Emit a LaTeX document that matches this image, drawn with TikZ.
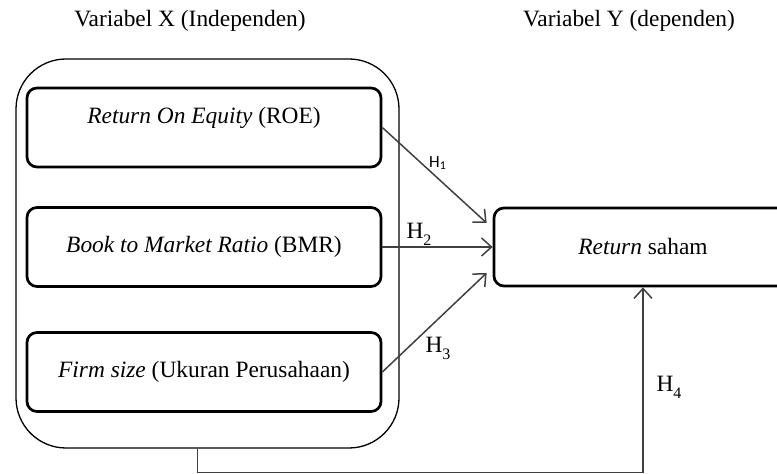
\documentclass[tikz,border=0pt]{standalone}
\usepackage{fontspec}
\setmainfont{Liberation Serif}
\newfontfamily\hsans{Carlito}
\usetikzlibrary{arrows.meta}
\newcommand{\hsub}[1]{H\raisebox{-3.5pt}{\footnotesize #1}}

\begin{document}
\begin{tikzpicture}[x=0.5pt,y=-0.5pt,
    every node/.style={font=\fontsize{11.7}{14}\selectfont},
    varbox/.style={draw,line width=1.35pt,rounded corners=5pt,%
      minimum width=177pt,minimum height=39.5pt,inner sep=0pt},
    hyp/.style={draw=black!75,line width=0.75pt,%
      -{Straight Barb[length=5pt,width=9pt]}}]
      \useasboundingbox (0,0) rectangle (777,474) ;
      \node (titleX) at (190,21) {Variabel X (Independen)} ;
      \node (titleY) at (629,21) {Variabel Y (dependen)} ;
      \node[draw,line width=0.65pt,rounded corners=25pt,minimum width=191.5pt,%
        minimum height=194.5pt] (grp) at (207.5,253.5) {} ;
      \node[varbox] (roe) at (204,127.5) %
        {\raisebox{12pt}{\textit{Return On Equity} (ROE)}} ;
      \node[varbox] (bmr) at (204,247) {\textit{Book to Market Ratio} (BMR)} ;
      \node[varbox] (firm) at (204,372) {\textit{Firm size} (Ukuran Perusahaan)} ;
      \node[varbox,minimum width=149pt,minimum height=39pt] %
        (ret) at (643,247) {\textit{Return} saham} ;
      \draw[hyp] (roe.east) -- ([xshift=-3pt,yshift=12pt]ret.west) ;
      \draw[hyp] (bmr.east) -- (ret.west) ;
      \draw[hyp] (firm.east) -- ([xshift=-3pt,yshift=-13pt]ret.west) ;
      \draw[hyp] ([xshift=-5pt]grp.south) -- ++(0,24) -| (ret.south) ;
      \node[font=\hsans\fontsize{8.5}{10}\selectfont] (h1) at (438,163) {H\textsubscript{1}} ;
      \node (h2) at (419,234) {\hsub{2}} ;
      \node (h3) at (438,348) {\hsub{3}} ;
      \node (h4) at (669,387) {\hsub{4}} ;
    \end{tikzpicture}
\end{document}
